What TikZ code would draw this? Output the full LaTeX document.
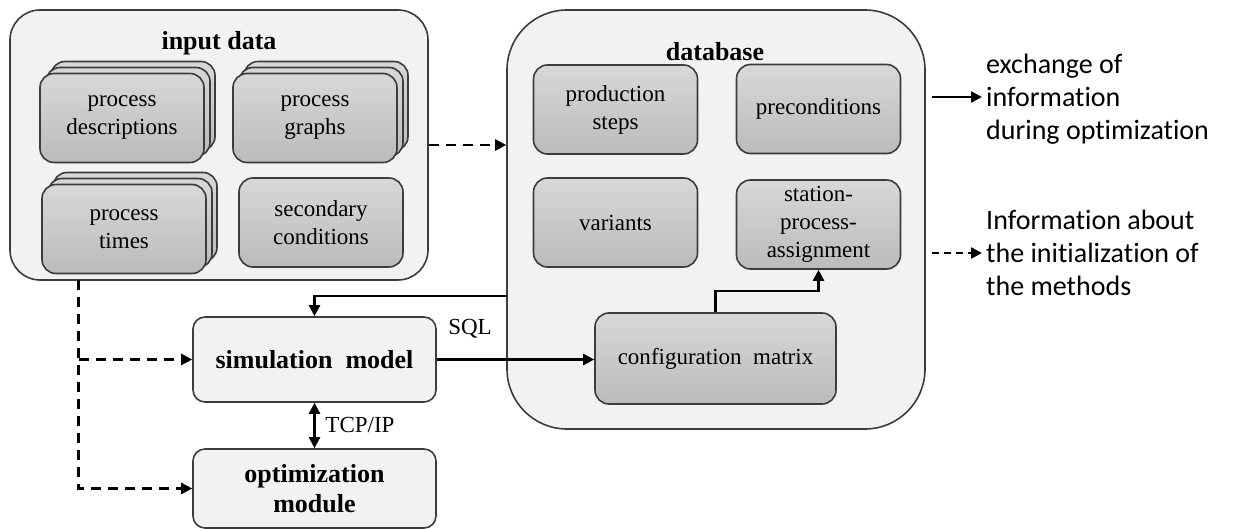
\documentclass[tikz,border=0pt]{standalone}
\usepackage{fontspec}
\setmainfont{Liberation Serif}
\newfontfamily\legendfont[Ligatures=NoCommon,RawFeature={-calt;-dlig;-liga}]{Carlito}
\usetikzlibrary{arrows.meta}
\definecolor{outerfill}{HTML}{F2F2F2}
\definecolor{innertop}{HTML}{D8D8D8}
\definecolor{innerbot}{HTML}{BBBBBB}
\definecolor{edge}{HTML}{3C3C3C}
\tikzset{
  outerbox/.style={draw=edge, line width=1.6pt, fill=outerfill, rounded corners=#1},
  innerbox/.style={draw=edge, line width=1.6pt, top color=innertop, bottom color=innerbot,
     rounded corners=14pt, minimum width=164pt, minimum height=89pt, align=center,
     font=\fontsize{23}{28}\selectfont, inner sep=0pt},
  lightbox/.style={draw=edge, line width=1.6pt, fill=outerfill, rounded corners=12pt,
     minimum width=243pt, align=center, font=\fontsize{26}{30}\selectfont\bfseries, inner sep=0pt},
  titletext/.style={font=\fontsize{26}{30}\selectfont\bfseries},
  lbl/.style={font=\fontsize{23}{26}\selectfont},
  tip/.style={-{Triangle[length=11pt,width=11pt]}},
  arr/.style={tip, line width=2.4pt, draw=black},
  darr/.style={{Triangle[length=11pt,width=11pt]}-{Triangle[length=11pt,width=11pt]}, line width=2.4pt},
  dasharr/.style={tip, line width=2.4pt, dash pattern=on 10pt off 7pt},
  legtext/.style={font=\legendfont\fontsize{28}{33}\selectfont, align=left, anchor=west, inner sep=0pt}
}
\begin{document}
\begin{tikzpicture}[x=1pt,y=-1pt]
\useasboundingbox (0,0) rectangle (1249,529);

% ---------- input data ----------
\node[outerbox=30pt, minimum width=418pt, minimum height=270pt, inner sep=0pt] (inp) at (219,145) {};
\node[titletext] (inptitle) at (219,43) {input data};

% stacked boxes (back layers)
\foreach \dx/\dy in {11/-12, 6/-6}{
  \node[innerbox] at (122+\dx,118+\dy) {};
  \node[innerbox] at (315+\dx,118+\dy) {};
  \node[innerbox] at (124+\dx,229+\dy) {};
}
\node[innerbox] (pd) at (122,118) {process\\descriptions};
\node[innerbox] (pg) at (315,118) {process\\graphs};
\node[innerbox] (pt) at (124,229) {process\\times};
\node[innerbox] (sc) at (321,222.5) {secondary\\conditions};

% ---------- database ----------
\node[outerbox=60pt, minimum width=418pt, minimum height=419pt, inner sep=0pt] (db) at (716,219.5) {};
\node[titletext] (dbtitle) at (715,52) {database};
\node[innerbox] (ps) at (615.5,109.5) {production\\steps};
\node[innerbox] (pc) at (818.5,109) {preconditions};
\node[innerbox] (va) at (615.5,222.5) {variants};
\node[innerbox] (spa) at (818.5,224.5) {station-\\process-\\assignment};
\node[innerbox, minimum width=241pt, minimum height=91pt] (cm) at (715.5,358.5) {configuration\ \ matrix};

% ---------- simulation / optimization ----------
\node[lightbox, minimum height=85pt] (sim) at (314.5,359.5) {simulation\ \ model};
\node[lightbox, minimum height=79pt] (opt) at (314.5,488.5) {optimization\\module};

% ---------- connectors ----------
\draw[dasharr] (inp.east) -- (inp.east -| db.west);
\coordinate (dtop) at (78.5,280);
\draw[dasharr] (dtop) |- (opt.west);
\draw[dasharr] (dtop |- sim.west) -- (sim.west);
\coordinate (dbL) at (507,296);
\draw[arr] (dbL) -| (sim.north);
\draw[arr] (sim.east) -- (sim.east -| cm.west);
\node[lbl] (sql) at (470,329) {SQL};
\draw[arr] (cm.north) -- ++(0,-21) -| (spa.south);
\draw[darr] (sim.south) -- (opt.north);
\node[lbl] (tcp) at (360,425) {TCP/IP};

% ---------- legend ----------
\coordinate (l1a) at (932,97);
\coordinate (l1b) at (982,97);
\draw[arr] (l1a) -- (l1b);
\node[legtext] (leg1) at (986,99) {exchange of\\information\\during optimization};
\coordinate (l2a) at (932,253);
\coordinate (l2b) at (982,253);
\draw[dasharr, dash pattern=on 7pt off 5pt] (l2a) -- (l2b);
\node[legtext] (leg2) at (986,253) {Information about\\the initialization of\\the methods};
\end{tikzpicture}
\end{document}
